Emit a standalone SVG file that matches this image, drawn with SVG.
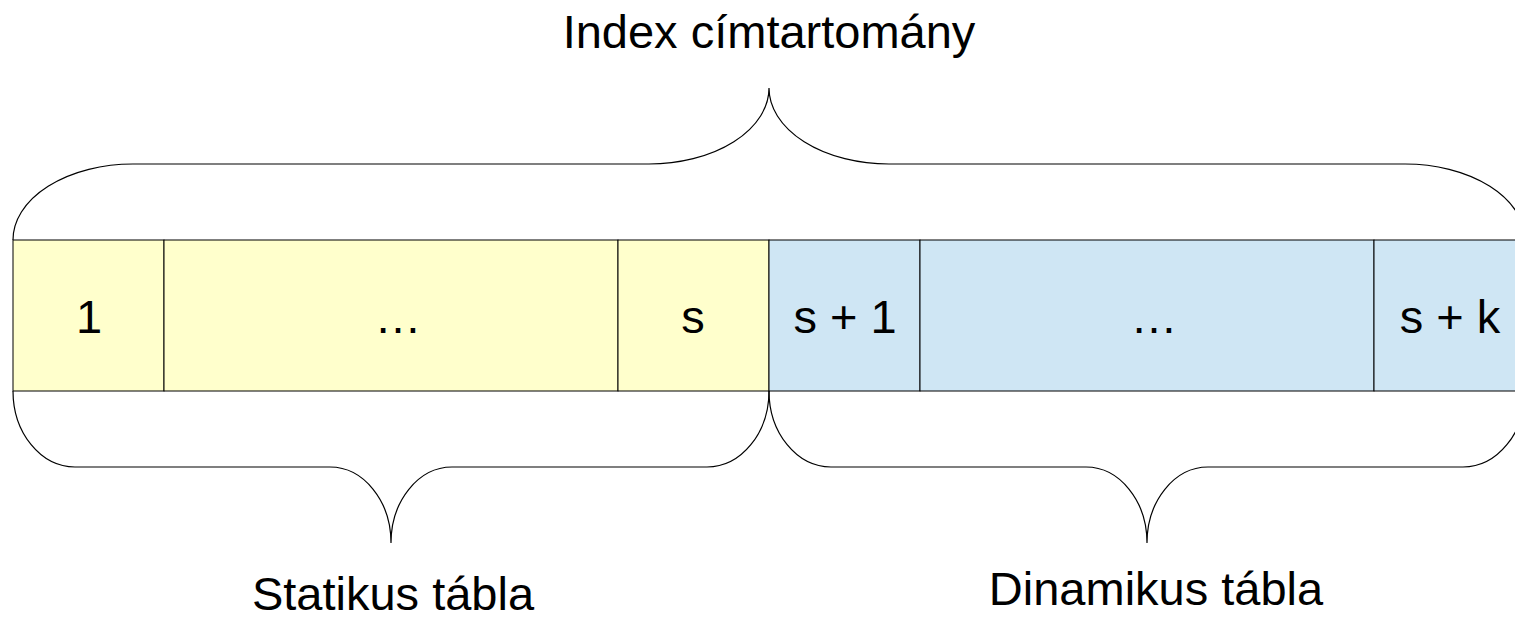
<svg xmlns="http://www.w3.org/2000/svg" width="1515" height="617" viewBox="0 0 1515 617">
<style>
.t{font-family:"Liberation Sans",Arial,sans-serif;font-size:47px;fill:#000;text-anchor:middle}
.st{fill:#ffffcc;stroke:#000;stroke-width:1}
.dy{fill:#cfe6f4;stroke:#000;stroke-width:1}
.br{fill:none;stroke:#000;stroke-width:1.2}
</style>
<rect width="1515" height="617" fill="#fff"/>
<g id="cell-1"><rect class="st" x="13" y="240" width="151" height="151"/><text class="t" x="89" y="333">1</text></g>
<g id="cell-static-dots"><rect class="st" x="164" y="240" width="454" height="151"/><text class="t" x="398" y="333">…</text></g>
<g id="cell-s"><rect class="st" x="618" y="240" width="151" height="151"/><text class="t" x="693" y="333">s</text></g>
<g id="cell-s1"><rect class="dy" x="769" y="240" width="151" height="151"/><text class="t" x="845" y="333">s + 1</text></g>
<g id="cell-dyn-dots"><rect class="dy" x="920" y="240" width="454" height="151"/><text class="t" x="1154" y="333">…</text></g>
<g id="cell-sk"><rect class="dy" x="1374" y="240" width="151" height="151"/><text class="t" x="1450" y="333">s + k</text></g>
<g id="connectors">
<path class="br" d="M13,240 A120,76 0 0 1 133,164 L649,164 A120,76 0 0 0 769,88 A120,76 0 0 0 889,164 L1405,164 A120,76 0 0 1 1525,240"/>
<path class="br" d="M13,391 A62,76 0 0 0 75,467 L330,467 A61,76 0 0 1 391,543 A61,76 0 0 1 452,467 L707,467 A62,76 0 0 0 769,391"/>
<path class="br" d="M769,391 A62,76 0 0 0 831,467 L1086,467 A61,76 0 0 1 1147,543 A61,76 0 0 1 1208,467 L1463,467 A62,76 0 0 0 1525,391"/>
</g>
<g id="label-index"><text class="t" x="769" y="48">Index címtartomány</text></g>
<g id="label-static"><text class="t" x="393" y="610">Statikus tábla</text></g>
<g id="label-dynamic"><text class="t" x="1156" y="605">Dinamikus tábla</text></g>
</svg>
